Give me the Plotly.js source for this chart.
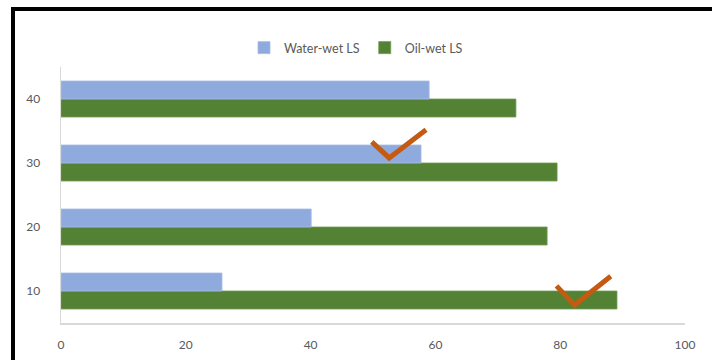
<!DOCTYPE html>
<html>
<head>
<meta charset="utf-8">
<script src="https://cdn.plot.ly/plotly-3.0.1.min.js"></script>
<style>
  html, body { margin: 0; padding: 0; background: #ffffff; }
  #wrap { position: relative; width: 712px; height: 360px; overflow: hidden; }
  #chart { position: absolute; left: 0; top: 0; width: 712px; height: 360px; }
  #frame { position: absolute; left: 11px; top: 7px; width: 720px; height: 400px;
           border-top: 4px solid #000; border-left: 4px solid #000; pointer-events: none; }
</style>
</head>
<body>
<div id="wrap">
  <div id="chart"></div>
  <div id="frame"></div>
</div>
<script>
const categories = ["10", "20", "30", "40"];
const waterWet = [25.8, 40.1, 57.7, 59.0];
const oilWet = [89.1, 77.9, 79.5, 72.9];
const xTicks = [0, 20, 40, 60, 80, 100];

const seriesNames = ["Water-wet LS", "Oil-wet LS"];
const colors = { water: "#8FAADC", oil: "#548235" };
const tickColor = "#595959";
const fontFam = "Lato, 'Open Sans', sans-serif";

// check-mark annotations (data x, category-axis y positions)
const check1X = [49.8, 52.6, 58.5];
const check1Y = [2.33, 2.08, 2.52];
const check2X = [79.4, 82.3, 88.1];
const check2Y = [0.08, -0.22, 0.23];

function checkPath(xs, ys) {
  return "M " + xs[0] + "," + ys[0] + " L " + xs[1] + "," + ys[1] + " L " + xs[2] + "," + ys[2];
}

const traces = [
  {
    type: "bar", orientation: "h", name: seriesNames[1],
    y: categories, x: oilWet,
    marker: { color: colors.oil, line: { color: "#6E9A50", width: 0.8 } },
    hoverinfo: "skip"
  },
  {
    type: "bar", orientation: "h", name: seriesNames[0],
    y: categories, x: waterWet,
    marker: { color: colors.water, line: { color: "#A7BDE6", width: 0.8 } },
    hoverinfo: "skip"
  }
];

const layout = {
  width: 712, height: 360,
  margin: { l: 61, r: 27, t: 67, b: 37, pad: 0 },
  paper_bgcolor: "rgba(0,0,0,0)",
  plot_bgcolor: "rgba(0,0,0,0)",
  barmode: "group",
  bargap: 0.4375,
  bargroupgap: 0,
  font: { family: fontFam, size: 12, color: tickColor },
  showlegend: true,
  legend: {
    orientation: "h", traceorder: "reversed",
    xref: "container", yref: "container",
    x: 0.5, xanchor: "center", y: 1 - 48 / 360, yanchor: "middle",
    font: { family: fontFam, size: 12.5, color: tickColor },
    itemwidth: 30, itemclick: false
  },
  xaxis: {
    range: [0, 100], tickvals: xTicks, ticktext: xTicks.map(String),
    showgrid: false, zeroline: false,
    showline: true, linecolor: "#D9D9D9", linewidth: 1.5,
    ticks: "", ticklabelstandoff: 10,
    tickfont: { family: fontFam, size: 12, color: tickColor },
    fixedrange: true
  },
  yaxis: {
    type: "category", categoryorder: "array", categoryarray: categories,
    range: [-0.5, 3.5],
    showgrid: false, zeroline: false,
    showline: true, linecolor: "#D9D9D9", linewidth: 1.5,
    ticks: "", ticklabelstandoff: 17,
    tickfont: { family: fontFam, size: 12, color: tickColor },
    fixedrange: true
  },
  shapes: [
    { type: "path", xref: "x", yref: "y", path: checkPath(check1X, check1Y),
      line: { color: "#C55A11", width: 5 }, layer: "above" },
    { type: "path", xref: "x", yref: "y", path: checkPath(check2X, check2Y),
      line: { color: "#C55A11", width: 5 }, layer: "above" }
  ]
};

Plotly.newPlot("chart", traces, layout, { displayModeBar: false, staticPlot: true });
</script>
</body>
</html>
